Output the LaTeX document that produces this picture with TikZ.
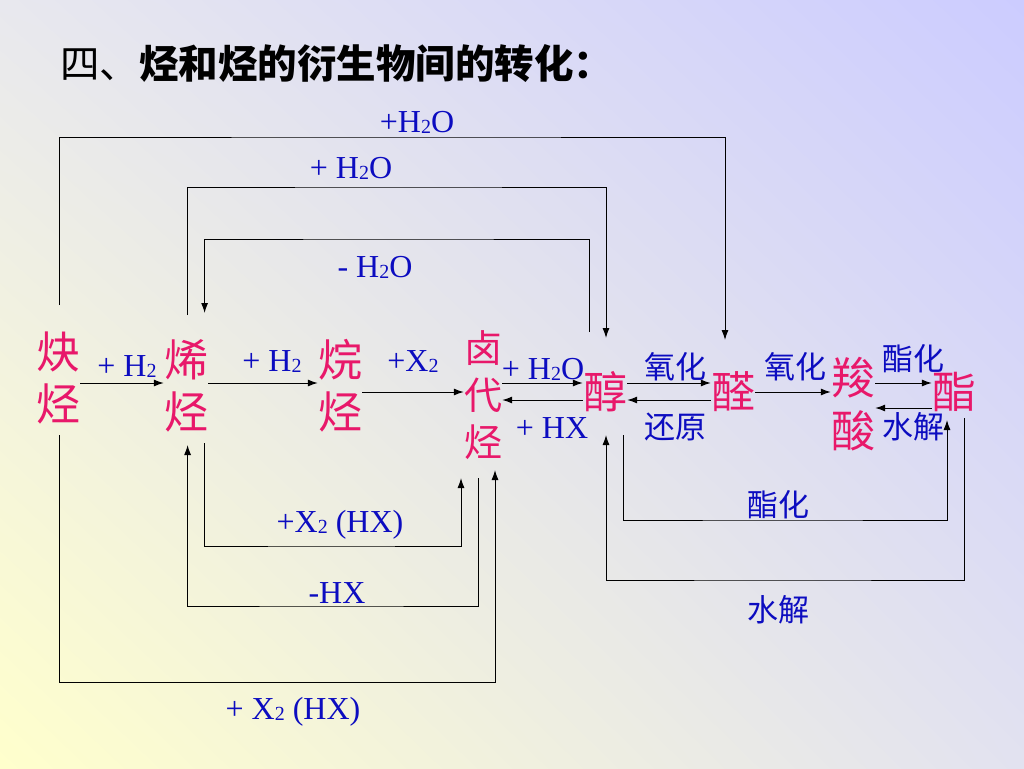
\documentclass[tikz,border=0pt]{standalone}
\usepackage{fontspec}
\setmainfont{Liberation Serif}
\newfontfamily\cjk{Noto Sans CJK SC}
\usetikzlibrary{arrows.meta,shadings}
\definecolor{hcred}{RGB}{232,24,106}
\definecolor{hcblue}{RGB}{12,12,192}
\definecolor{bgtl}{RGB}{232,232,238}
\definecolor{bgtr}{RGB}{204,204,255}
\definecolor{bgbl}{RGB}{255,255,204}
\definecolor{bgbr}{RGB}{226,226,240}
\newcommand{\subnum}[1]{\raisebox{-1pt}{\fontsize{20}{20}\selectfont #1}}
\begin{document}
\begin{tikzpicture}[x=1pt,y=-1pt,
	cmpd/.style={text=hcred,font=\cjk\fontsize{44}{52}\selectfont,align=center,inner sep=0pt},
	lab/.style={text=hcblue,font=\fontsize{32}{32}\selectfont,inner sep=0pt},
	clab/.style={text=hcblue,font=\cjk\fontsize{31}{31}\selectfont,inner sep=0pt},
	arr/.style={-{Latex[length=10pt,width=7pt]},line width=1pt}]
	\shade[upper left=bgtl,upper right=bgtr,lower left=bgbl,lower right=bgbr] (0,0) rectangle (1024,768);
	\useasboundingbox (0,0) rectangle (1024,768);
	\node[anchor=west,inner sep=0pt,font=\cjk\fontsize{39.5}{40}\selectfont] (title) at (60,64) {四、\textbf{烃和烃的衍生物间的转化：}};
	% compounds
	\node[cmpd] (yne) at (58,378) {炔\\烃};
	\node[cmpd] (ene) at (186,386) {烯\\烃};
	\node[cmpd] (ane) at (340,386) {烷\\烃};
	\node[cmpd,font=\cjk\fontsize{38}{47}\selectfont] (halo) at (483,395) {卤\\代\\烃};
	\node[cmpd] (alc) at (605,392) {醇};
	\node[cmpd] (ald) at (733,392) {醛};
	\node[cmpd,font=\cjk\fontsize{44}{53}\selectfont] (acid) at (853,404) {羧\\酸};
	\node[cmpd] (ester) at (954,392) {酯};
	% main row
	\draw[arr] (yne.east |- 0,383) -- (ene.west |- 0,383);
	\draw[arr] (ene.east |- 0,383) -- (ane.west |- 0,383);
	\draw[arr] (ane.east |- 0,392) -- (halo.west |- 0,392);
	\draw[arr] (halo.east |- 0,383) -- (alc.west |- 0,383);
	\draw[arr] (alc.west |- 0,400) -- (halo.east |- 0,400);
	\draw[arr] (alc.east |- 0,383) -- (ald.west |- 0,383);
	\draw[arr] (ald.west |- 0,400) -- (alc.east |- 0,400);
	\draw[arr] (ald.east |- 0,392) -- (acid.west |- 0,392);
	\draw[arr] (acid.east |- 0,383) -- (ester.west |- 0,383);
	\draw[arr] (ester.west |- 0,408) -- (acid.east |- 0,408);
	% loops above
	\draw[arr] ([xshift=1.5pt,yshift=73pt]yne.center) |- (400,137) -| ([xshift=-8pt,yshift=52pt]ald.center);
	\draw[arr] ([xshift=1pt,yshift=71pt]ene.center) |- (400,187) -| ([xshift=1pt,yshift=54pt]alc.center);
	\draw[arr] ([xshift=-16pt,yshift=60pt]alc.center) |- (400,239) -| ([xshift=18.6pt,yshift=73pt]ene.center);
	% loops below
	\draw[arr] ([xshift=18.6pt,yshift=-57pt]ene.center) |- (330,546) -| ([xshift=-22pt,yshift=-83pt]halo.center);
	\draw[arr] ([xshift=-5pt,yshift=-83pt]halo.center) |- (330,606) -| ([xshift=1.6pt,yshift=-59pt]ene.center);
	\draw[arr] ([xshift=1.5pt,yshift=-57pt]yne.center) |- (300,682) -| ([xshift=12pt,yshift=-75pt]halo.center);
	\draw[arr] ([xshift=18pt,yshift=-43pt]alc.center) |- (780,520) -| ([xshift=-7pt,yshift=-28pt]ester.center);
	\draw[arr] ([xshift=10pt,yshift=-26pt]ester.center) |- (780,580) -| ([xshift=1pt,yshift=-43pt]alc.center);
	% labels
	\node[lab] (h2a) at (127,367) {+ H\subnum{2}};
	\node[lab] (h2b) at (272,362) {+ H\subnum{2}};
	\node[lab] (x2a) at (413,362) {+X\subnum{2}};
	\node[lab] (h2oa) at (543,369) {+ H\subnum{2}O};
	\node[lab] (hxa) at (552,428) {+ HX};
	\node[clab] (oxa) at (675,367) {氧化};
	\node[clab] (redu) at (675,427) {还原};
	\node[clab] (oxb) at (795,367) {氧化};
	\node[clab] (esta) at (913,359) {酯化};
	\node[clab] (hyda) at (913,427) {水解};
	\node[lab] (h2ob) at (417,122) {+H\subnum{2}O};
	\node[lab] (h2oc) at (351,168) {+ H\subnum{2}O};
	\node[lab] (h2od) at (375,267) {- H\subnum{2}O};
	\node[lab] (x2b) at (340,525) {+X\subnum{2} (HX)};
	\node[lab] (hxb) at (337,593) {-HX};
	\node[lab] (x2c) at (293,712) {+ X\subnum{2} (HX)};
	\node[clab] (estb) at (778,505) {酯化};
	\node[clab] (hydb) at (778,610) {水解};
\end{tikzpicture}
\end{document}
